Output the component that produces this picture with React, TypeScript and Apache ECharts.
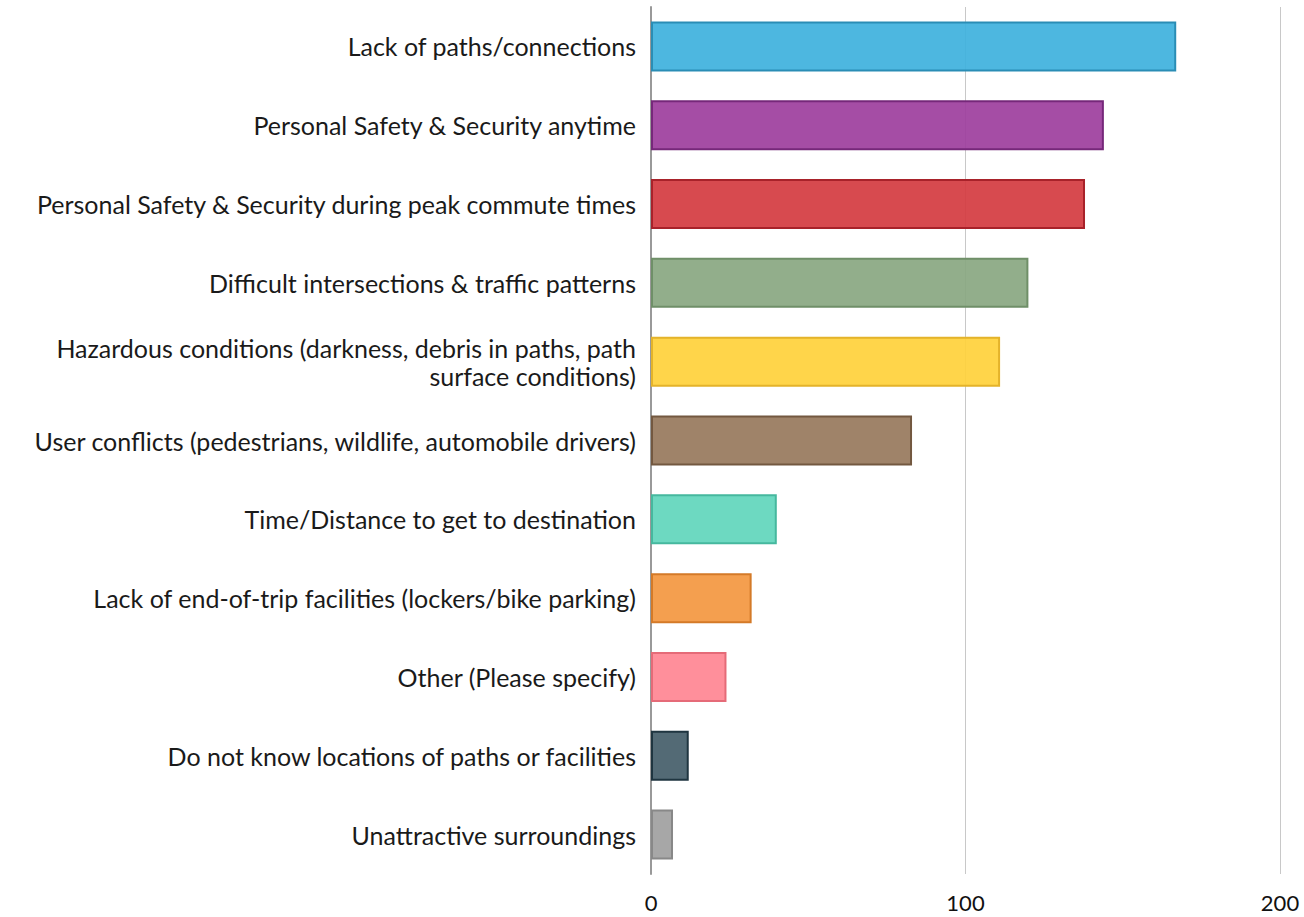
import React, { useEffect, useRef } from "react";
import * as echarts from "echarts";

const categories = [
  "Lack of paths/connections",
  "Personal Safety & Security anytime",
  "Personal Safety & Security during peak commute times",
  "Difficult intersections & traffic patterns",
  "Hazardous conditions (darkness, debris in paths, path\nsurface conditions)",
  "User conflicts (pedestrians, wildlife, automobile drivers)",
  "Time/Distance to get to destination",
  "Lack of end-of-trip facilities (lockers/bike parking)",
  "Other (Please specify)",
  "Do not know locations of paths or facilities",
  "Unattractive surroundings",
];
const values = [167, 144, 138, 120, 111, 83, 40, 32, 24, 12, 7];
const fillColors = [
  "rgba(64,178,222,0.93)",
  "rgba(158,64,158,0.93)",
  "rgba(212,60,66,0.93)",
  "rgba(138,168,130,0.93)",
  "rgba(255,210,60,0.93)",
  "rgba(152,122,94,0.93)",
  "rgba(98,214,188,0.93)",
  "rgba(243,152,66,0.93)",
  "rgba(255,134,147,0.93)",
  "rgba(70,95,106,0.93)",
  "rgba(160,160,160,0.93)",
];
const borderColors = [
  "#2a8db5",
  "#76287a",
  "#a8222a",
  "#6f8f68",
  "#e4b32a",
  "#735840",
  "#46b89e",
  "#d47a28",
  "#e56b78",
  "#1f3540",
  "#888888",
];

export default function App() {
  const ref = useRef<HTMLDivElement>(null);
  useEffect(() => {
    document.body.style.margin = "0";
    const chart = echarts.init(ref.current!, null, { renderer: "svg" });
    chart.setOption({
      animation: false,
      backgroundColor: "#ffffff",
      grid: { left: 651, right: 24, top: 7, bottom: 43, containLabel: false },
      xAxis: {
        type: "value",
        min: 0,
        max: 200,
        interval: 100,
        axisLine: { show: false },
        axisTick: { show: false },
        splitLine: { show: true, lineStyle: { color: "#c8c8c8", width: 1 } },
        axisLabel: {
          color: "#111",
          fontFamily: "Lato",
          fontSize: 22,
          margin: 17,
          formatter: (v: number) => String(v),
          showMaxLabel: true,
        },
      },
      yAxis: {
        type: "category",
        inverse: true,
        data: categories,
        axisLine: { show: true, lineStyle: { color: "#999", width: 2 } },
        axisTick: { show: false },
        axisLabel: {
          color: "#1a1a1a",
          fontFamily: "Lato",
          fontSize: 25,
          margin: 15,
          align: "right",
          lineHeight: 28,
        },
      },
      series: [
        {
          type: "bar",
          barWidth: 50,
          data: values.map((v, i) => ({
            value: v,
            itemStyle: {
              color: fillColors[i],
              borderColor: borderColors[i],
              borderWidth: 2,
            },
          })),
        },
      ],
    });
    return () => chart.dispose();
  }, []);
  return <div ref={ref} style={{ width: 1304, height: 917 }} />;
}
